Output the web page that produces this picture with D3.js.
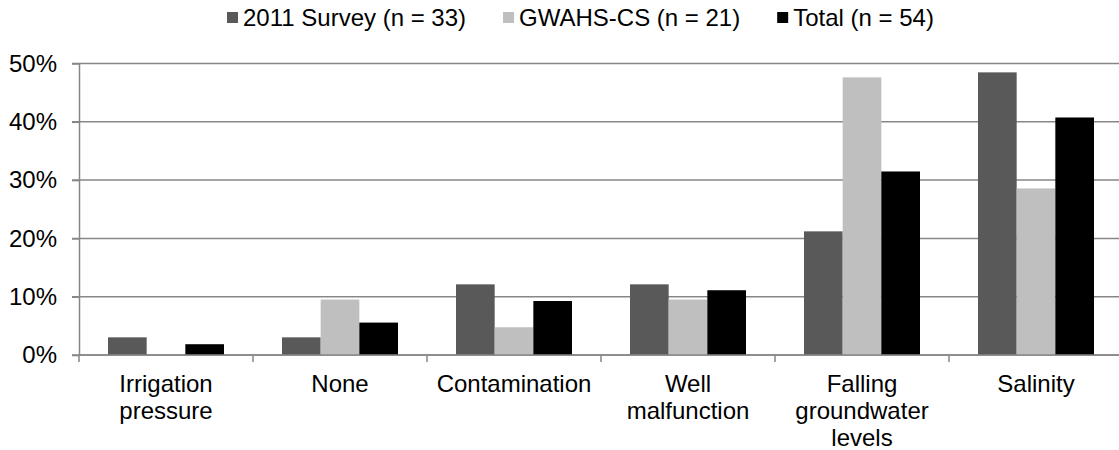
<!DOCTYPE html>
<html>
<head>
<meta charset="utf-8">
<script src="https://cdn.jsdelivr.net/npm/d3@7"></script>
<style>
  body { margin: 0; background: #fff; }
  text { font-family: "Liberation Sans", Arial, sans-serif; fill: #000; }
</style>
</head>
<body>
<div id="chart"></div>
<script>
const categories = ["Irrigation pressure", "None", "Contamination", "Well malfunction", "Falling groundwater levels", "Salinity"];
const categoryLines = [["Irrigation", "pressure"], ["None"], ["Contamination"], ["Well", "malfunction"], ["Falling", "groundwater", "levels"], ["Salinity"]];
const seriesNames = ["2011 Survey (n = 33)", "GWAHS-CS (n = 21)", "Total (n = 54)"];
const survey2011 = [0.0303, 0.0303, 0.1212, 0.1212, 0.2121, 0.4848];
const gwahs = [0, 0.0952, 0.0476, 0.0952, 0.4762, 0.2857];
const total = [0.0185, 0.0556, 0.0926, 0.1111, 0.3148, 0.4074];
const yTicks = [0, 0.1, 0.2, 0.3, 0.4, 0.5];

const colors = ["#595959", "#bfbfbf", "#000000"];
const gridColor = "#878787";

const W = 1119, H = 450;
const margin = { top: 63.5, left: 79 };
const width = 6 * 174;
const height = 355 - margin.top;

const svg = d3.select("#chart")
  .append("svg")
  .attr("width", W)
  .attr("height", H);

const g = svg.append("g")
  .attr("transform", `translate(${margin.left},${margin.top})`);

const x = d3.scaleBand().domain(categories).range([0, width]);
const xInner = d3.scaleBand().domain(seriesNames).range([0, x.bandwidth()]).paddingOuter(0.75);
const y = d3.scaleLinear().domain([0, 0.5]).range([height, 0]);

// gridlines
g.selectAll(".grid")
  .data(yTicks)
  .enter()
  .append("line")
  .attr("x1", -7)
  .attr("x2", width)
  .attr("y1", d => y(d))
  .attr("y2", d => y(d))
  .attr("stroke", gridColor)
  .attr("stroke-width", 1.5);

// y axis
const yAxis = g.append("g")
  .call(d3.axisLeft(y).tickValues(yTicks).tickFormat(d3.format(".0%")).tickSize(7).tickSizeOuter(0));
yAxis.select(".domain").attr("stroke", gridColor).attr("stroke-width", 1.5);
yAxis.selectAll(".tick line").attr("stroke", gridColor).attr("stroke-width", 1.5);
yAxis.selectAll(".tick text")
  .attr("x", -22)
  .attr("font-size", 24)
  .attr("font-family", "Liberation Sans, Arial, sans-serif")
  .attr("fill", "#000");

// bars
const rows = categories.map((c, i) => ({ cat: c, vals: [survey2011[i], gwahs[i], total[i]] }));
const groups = g.selectAll(".grp")
  .data(rows)
  .enter()
  .append("g")
  .attr("transform", d => `translate(${x(d.cat)},0)`);

groups.selectAll("rect")
  .data(d => d.vals.map((v, k) => ({ s: seriesNames[k], v, k })))
  .enter()
  .append("rect")
  .attr("x", d => xInner(d.s))
  .attr("width", xInner.bandwidth())
  .attr("y", d => y(d.v))
  .attr("height", d => height - y(d.v))
  .attr("fill", d => colors[d.k]);

// x axis line and boundary ticks
g.append("line")
  .attr("x1", 0).attr("x2", width)
  .attr("y1", height).attr("y2", height)
  .attr("stroke", gridColor).attr("stroke-width", 1.5);

const bounds = categories.map(c => x(c)).concat([width]);
g.selectAll(".xtick")
  .data(bounds)
  .enter()
  .append("line")
  .attr("x1", d => d).attr("x2", d => d)
  .attr("y1", height).attr("y2", height + 7)
  .attr("stroke", gridColor).attr("stroke-width", 1.5);

// category labels
const labels = g.selectAll(".xlab")
  .data(categories)
  .enter()
  .append("text")
  .attr("text-anchor", "middle")
  .attr("font-size", 24)
  .attr("transform", d => `translate(${x(d) + x.bandwidth() / 2},${height + 37})`);

labels.selectAll("tspan")
  .data((d, i) => categoryLines[i])
  .enter()
  .append("tspan")
  .attr("x", 0)
  .attr("y", (d, j) => j * 27)
  .text(d => d);

// legend
const legend = svg.append("g").attr("transform", "translate(227,0)");
let lx = 0;
seriesNames.forEach((name, k) => {
  const item = legend.append("g").attr("transform", `translate(${lx},0)`);
  item.append("rect")
    .attr("x", 0).attr("y", 12)
    .attr("width", 11).attr("height", 11)
    .attr("fill", colors[k]);
  const t = item.append("text")
    .attr("x", 16).attr("y", 26)
    .attr("font-size", 24)
    .text(name);
  lx += 16 + t.node().getComputedTextLength() + 37;
});
</script>
</body>
</html>
